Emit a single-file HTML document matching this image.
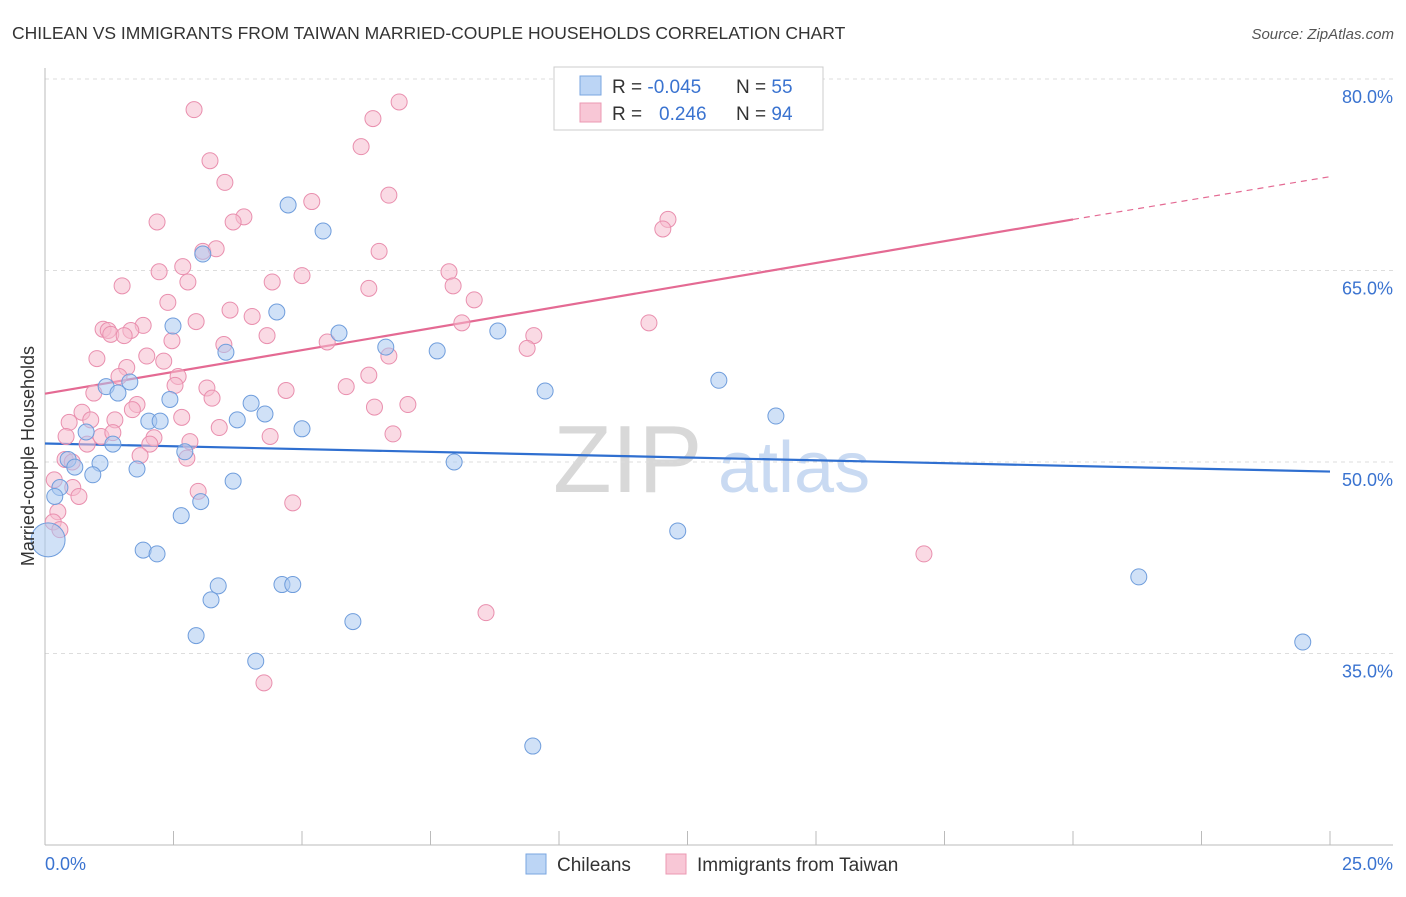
<!DOCTYPE html>
<html><head><meta charset="utf-8">
<style>
body{margin:0;background:#fff;font-family:"Liberation Sans",sans-serif;}
svg text{font-family:"Liberation Sans",sans-serif;}
</style></head>
<body>
<svg id="chart" width="1406" height="892" xmlns="http://www.w3.org/2000/svg">
<text x="12" y="39" font-size="17.5" fill="#333">CHILEAN VS IMMIGRANTS FROM TAIWAN MARRIED-COUPLE HOUSEHOLDS CORRELATION CHART</text>
<text x="1394" y="39" font-size="15" fill="#555" font-style="italic" text-anchor="end">Source: ZipAtlas.com</text>
<g>
<text x="553" y="492" font-size="96" fill="#d8d8d8" font-family="Liberation Serif">ZIP</text>
<text x="718" y="492" font-size="72" fill="#c9daf2">atlas</text>
</g>
<g id="grid"></g>
<g id="axes"></g>
<g id="lines"></g>
<g id="pts"></g>
<text transform="translate(34,456) rotate(-90)" font-size="18" fill="#333" text-anchor="middle">Married-couple Households</text>
<g>
<rect x="554" y="67" width="269" height="63" fill="#fff" stroke="#ccc"/>
<rect x="580" y="76" width="21" height="19" fill="#bcd5f5" stroke="#7aa6e0"/>
<rect x="580" y="103" width="21" height="19" fill="#f8c7d6" stroke="#eb98b3"/>
<text x="612" y="93" font-size="19" fill="#333">R = <tspan fill="#3a73d0">-0.045</tspan><tspan x="736">N = </tspan><tspan fill="#3a73d0">55</tspan></text>
<text x="612" y="120" font-size="19" fill="#333">R = <tspan x="659" fill="#3a73d0">0.246</tspan><tspan x="736">N = </tspan><tspan fill="#3a73d0">94</tspan></text>
</g>
<g>
<rect x="526" y="854" width="20" height="20" fill="#bcd5f5" stroke="#7aa6e0"/>
<text x="557" y="871" font-size="19" fill="#333">Chileans</text>
<rect x="666" y="854" width="20" height="20" fill="#f8c7d6" stroke="#eb98b3"/>
<text x="697" y="871" font-size="19" fill="#333">Immigrants from Taiwan</text>
</g>
</svg>
<script>
const yTicks=[35,50,65,80];
const xTickLabels=["0.0%","25.0%"];
const blueX=[4.73,5.41,3.07,4.51,2.49,5.72,8.81,6.63,7.63,3.52,13.11,9.73,1.19,1.42,1.65,2.43,4.01,4.28,3.74,2.02,2.24,14.22,5.0,0.8,1.32,2.72,0.45,1.07,7.96,0.58,1.79,0.93,3.66,0.29,0.19,3.03,2.65,12.31,0.06,1.91,2.18,21.28,3.37,4.61,4.82,3.23,5.99,2.94,24.47,4.1,9.49];
const blueY=[70.13,68.09,66.29,61.75,60.65,60.1,60.26,59.0,58.7,58.6,56.4,55.56,55.9,55.4,56.27,54.9,54.6,53.76,53.3,53.2,53.2,53.6,52.6,52.35,51.4,50.8,50.2,49.9,50.0,49.6,49.45,49.0,48.5,48.0,47.3,46.9,45.8,44.6,43.9,43.1,42.8,41.0,40.3,40.4,40.4,39.2,37.5,36.4,35.9,34.4,27.75];
const pinkX=[2.9,6.89,6.38,6.15,3.21,3.5,6.69,5.19,3.87,3.66,2.18,12.12,12.02,3.07,3.33,6.5,2.68,2.22,2.78,4.42,5.0,7.86,1.5,6.3,7.94,8.35,2.39,3.6,4.03,2.94,8.11,11.75,1.91,1.13,1.23,1.67,1.28,1.54,9.51,4.32,5.49,2.47,3.48,9.38,6.69,1.98,1.01,2.31,1.59,6.3,2.59,1.44,2.53,5.86,3.15,4.69,0.95,3.25,7.06,6.41,1.79,1.7,0.72,2.66,0.47,1.36,0.89,3.39,0.41,1.09,1.32,6.77,4.38,2.12,2.04,2.82,0.82,1.85,2.76,0.39,0.53,0.18,0.54,2.98,0.66,4.82,0.25,0.16,0.29,17.1,8.58,4.26];
const pinkY=[77.6,78.2,76.9,74.7,73.6,71.9,70.9,70.4,69.2,68.8,68.8,69.0,68.25,66.5,66.7,66.5,65.3,64.9,64.1,64.1,64.6,64.9,63.8,63.6,63.8,62.7,62.5,61.9,61.4,61.0,60.9,60.9,60.7,60.4,60.3,60.3,60.0,59.9,59.9,59.9,59.4,59.5,59.2,58.9,58.3,58.3,58.1,57.9,57.4,56.8,56.7,56.7,56.0,55.9,55.8,55.6,55.4,55.0,54.5,54.3,54.5,54.1,53.9,53.5,53.1,53.3,53.3,52.7,52.0,52.0,52.3,52.2,52.0,51.9,51.4,51.6,51.4,50.5,50.3,50.2,50.0,48.6,48.0,47.7,47.3,46.8,46.1,45.3,44.7,42.8,38.2,32.7];
const blueTrend=[51.45,49.25];
const pinkTrend=[55.35,69.0,72.35];
const X=v=>45+v/25*1285;
const Y=v=>79+(80-v)/15*191.5;
const NS="http://www.w3.org/2000/svg";
function mk(t,a,p){const e=document.createElementNS(NS,t);for(const k in a)e.setAttribute(k,a[k]);p.appendChild(e);return e;}
const grid=document.getElementById('grid'),axes=document.getElementById('axes'),lines=document.getElementById('lines'),pts=document.getElementById('pts');
yTicks.forEach(t=>{
 const l=mk('line',{x1:45,x2:1393,y1:Y(t),y2:Y(t),stroke:'#ddd','stroke-dasharray':'4,4'},grid);
 
 
 const tx=mk('text',{x:1393,y:Y(t)+24,'font-size':18,fill:'#3a73d0','text-anchor':'end'},axes);
 tx.textContent=t.toFixed(1)+'%';
 
 
});
const ax=mk('line',{x1:45,x2:1393,y1:845,y2:845,stroke:'#bbb'},axes);


const ay=mk('line',{x1:45,x2:45,y1:68,y2:845,stroke:'#bbb'},axes);


for(let i=0;i<=10;i++){
 const t=mk('line',{x1:X(i*2.5),x2:X(i*2.5),y1:831,y2:845,stroke:'#bbb'},axes);
 
 
}
[[0,'start',45],[25,'end',1393]].forEach((d,i)=>{
 const tx=mk('text',{x:d[2],y:870,'font-size':18,fill:'#3a73d0','text-anchor':d[1]},axes);
 tx.textContent=xTickLabels[i];
 
 
});
function dots(xs,ys,fill,stroke,name){
 xs.forEach((v,i)=>{
  const big=(v<0.1);
  const c=mk('circle',{cx:X(v),cy:Y(ys[i]),r:big?17:8,fill:fill,'fill-opacity':0.55,stroke:stroke,'stroke-width':1},pts);
  
  
 });
}
dots(pinkX,pinkY,'#f6bccd','#e98fae','point-taiwan');
dots(blueX,blueY,'#a9c8f0','#6f9ddc','point-chilean');
const bl=mk('line',{x1:X(0),y1:Y(blueTrend[0]),x2:X(25),y2:Y(blueTrend[1]),stroke:'#2f6fd0','stroke-width':2.2},lines);


const pl=mk('line',{x1:X(0),y1:Y(pinkTrend[0]),x2:X(20),y2:Y(pinkTrend[1]),stroke:'#e46a93','stroke-width':2.2},lines);


const pd=mk('line',{x1:X(20),y1:Y(pinkTrend[1]),x2:X(25),y2:Y(pinkTrend[2]),stroke:'#e46a93','stroke-width':1.2,'stroke-dasharray':'6,5'},lines);


</script>
</body></html>
